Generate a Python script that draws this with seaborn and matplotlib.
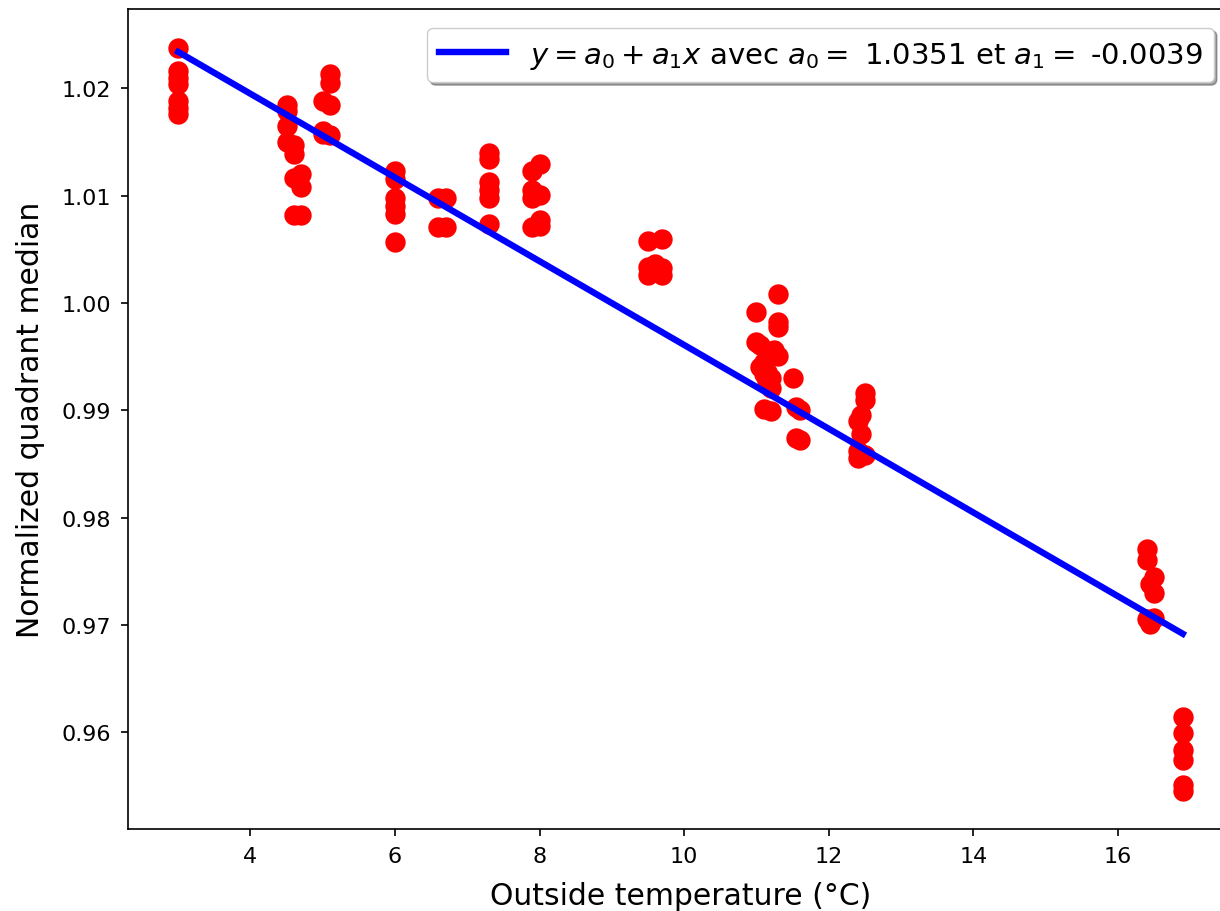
import numpy as np
import pandas as pd
import matplotlib
matplotlib.use("Agg")
import matplotlib.pyplot as plt
import seaborn as sns

# --- data ---
temp_3 = [3.0, 3.0, 3.0, 3.0, 3.0, 3.0, 3.0]
med_3 = [1.0238, 1.0216, 1.0210, 1.0204, 1.0188, 1.0182, 1.0176]

temp_45 = [4.5, 4.5, 4.5, 4.5, 4.6, 4.6, 4.6, 4.7, 4.7, 4.6, 4.7]
med_45 = [1.0185, 1.0179, 1.0165, 1.0150, 1.0147, 1.0139, 1.0117, 1.0120, 1.0108, 1.0082, 1.0082]

temp_5 = [5.1, 5.1, 5.0, 5.1, 5.0, 5.1, 5.0]
med_5 = [1.0213, 1.0205, 1.0188, 1.0185, 1.0160, 1.0157, 1.0158]

temp_6 = [6.0, 6.0, 6.0, 6.0, 6.0, 6.0]
med_6 = [1.0123, 1.0116, 1.0098, 1.0090, 1.0083, 1.0057]

temp_67 = [6.6, 6.7, 6.6, 6.7]
med_67 = [1.0098, 1.0098, 1.0071, 1.0071]

temp_73 = [7.3, 7.3, 7.3, 7.3, 7.3, 7.3]
med_73 = [1.0140, 1.0134, 1.0113, 1.0105, 1.0098, 1.0074]

temp_8 = [8.0, 7.9, 7.9, 8.0, 7.9, 8.0, 7.9, 8.0]
med_8 = [1.0130, 1.0123, 1.0105, 1.0101, 1.0098, 1.0077, 1.0071, 1.0072]

temp_96 = [9.5, 9.7, 9.6, 9.5, 9.7, 9.5, 9.7]
med_96 = [1.0058, 1.0060, 1.0036, 1.0034, 1.0033, 1.0026, 1.0026]

temp_11 = [11.3, 11.0, 11.3, 11.3, 11.0, 11.05, 11.25, 11.3, 11.05, 11.1,
           11.15, 11.2, 11.1, 11.15, 11.2, 11.1, 11.2]
med_11 = [1.0008, 0.9992, 0.9982, 0.9978, 0.9964, 0.9961, 0.9956, 0.9951, 0.9940, 0.9945,
          0.9936, 0.9930, 0.9934, 0.9927, 0.9921, 0.9901, 0.9899]

temp_115 = [11.5, 11.55, 11.6, 11.55, 11.6]
med_115 = [0.9930, 0.9903, 0.9900, 0.9874, 0.9872]

temp_125 = [12.5, 12.5, 12.45, 12.4, 12.45, 12.4, 12.5, 12.4]
med_125 = [0.9916, 0.9910, 0.9896, 0.9890, 0.9878, 0.9862, 0.9858, 0.9856]

temp_164 = [16.4, 16.4, 16.5, 16.45, 16.5, 16.4, 16.5, 16.45]
med_164 = [0.9771, 0.9761, 0.9745, 0.9738, 0.9730, 0.9706, 0.9707, 0.9701]

temp_169 = [16.9, 16.9, 16.9, 16.9, 16.9, 16.9]
med_169 = [0.9614, 0.9599, 0.9584, 0.9574, 0.9551, 0.9545]

# fit coefficients shown in the legend
a0 = 1.0351
a1 = -0.0039
fit_x = [3.0, 16.9]

temps = (temp_3 + temp_45 + temp_5 + temp_6 + temp_67 + temp_73 + temp_8 +
         temp_96 + temp_11 + temp_115 + temp_125 + temp_164 + temp_169)
meds = (med_3 + med_45 + med_5 + med_6 + med_67 + med_73 + med_8 +
        med_96 + med_11 + med_115 + med_125 + med_164 + med_169)
df = pd.DataFrame({"temp": temps, "median": meds})
fit_df = pd.DataFrame({"x": fit_x, "y": [a0 + a1 * v for v in fit_x]})

fig = plt.figure(figsize=(12.2, 9.12), dpi=100)
# the reference is cropped on the right: the axes extend slightly past the edge
ax = fig.add_axes([128 / 1220, 1 - 830 / 912, (1233 - 128) / 1220, (830 - 10) / 912])

sns.scatterplot(data=df, x="temp", y="median", ax=ax, color="red", s=215,
                linewidth=0, zorder=2)
sns.lineplot(data=fit_df, x="x", y="y", ax=ax, color="blue", linewidth=4.6,
             zorder=3,
             label=r"$y = a_0 + a_1 x$ avec $a_0 =$ 1.0351 et $a_1 =$ -0.0039")

ax.set_xlim(2.305, 17.595)
ax.set_ylim(0.9510, 1.0274)
ax.set_xticks([4, 6, 8, 10, 12, 14, 16])
ax.set_yticks([0.96, 0.97, 0.98, 0.99, 1.00, 1.01, 1.02])
ax.set_yticklabels(["0.96", "0.97", "0.98", "0.99", "1.00", "1.01", "1.02"])
ax.tick_params(labelsize=16, length=5, width=1.2, pad=7)
ax.set_xlabel("Outside temperature (°C)", fontsize=21.5, labelpad=11)
ax.set_ylabel("Normalized quadrant median", fontsize=21.5, labelpad=12)
for sp in ax.spines.values():
    sp.set_linewidth(1.2)

leg = ax.legend(loc="upper right", fontsize=21, shadow=True, fancybox=True,
                handlelength=2.3, borderaxespad=0.65)

fig.savefig("out.png", dpi=100)
